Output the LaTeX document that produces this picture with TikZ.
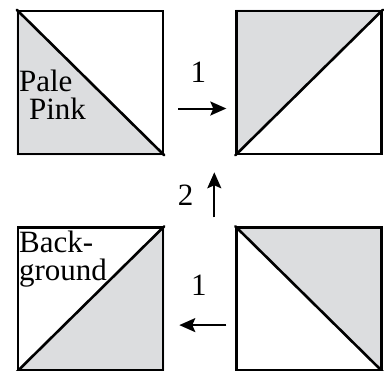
\documentclass[tikz,border=0pt]{standalone}
\usepackage{fontspec}
\setmainfont{Liberation Serif}
\usepackage{tikz}
\usetikzlibrary{positioning,arrows.meta,calc,backgrounds}
\definecolor{tilegray}{HTML}{DCDDDF}
\tikzset{
  tile/.style={rectangle, draw=black, line width=1.3pt, inner sep=0pt,
               minimum width=72.5pt, minimum height=71.5pt},
  half/.style={fill=tilegray},
  cut/.style={line width=1.3pt, line cap=round},
  lbl/.style={font=\fontsize{15.5}{14}\selectfont, inner sep=0pt},
  flow/.style={-{Stealth[length=8pt,width=7pt,inset=1.5pt]}, line width=1pt}
}
\begin{document}
\begin{tikzpicture}[x=0.5pt, y=-0.5pt, node distance=35.5pt]
\useasboundingbox (0,0) rectangle (385,370);
\node[tile] (tl) at (90.5,82.5) {};
\node[tile, right=of tl] (tr) {};
\node[tile, below=of tl] (bl) {};
\node[tile, below=of tr] (br) {};
\begin{scope}[on background layer]
  \path[half] (tl.north west) -- (tl.south west) -- (tl.south east) -- cycle;
  \path[half] (tr.north west) -- (tr.north east) -- (tr.south west) -- cycle;
  \path[half] (bl.north east) -- (bl.south east) -- (bl.south west) -- cycle;
  \path[half] (br.north west) -- (br.north east) -- (br.south east) -- cycle;
\end{scope}
\draw[cut] (tl.north west) -- (tl.south east);
\draw[cut] (tr.south west) -- (tr.north east);
\draw[cut] (bl.south west) -- (bl.north east);
\draw[cut] (br.north west) -- (br.south east);
\node[lbl, anchor=north west, align=left] (pink) at ($(tl.north west)+(2,60)$) {Pale\\\hspace*{5pt}Pink};
\node[lbl, anchor=north west, align=left] (bg) at ($(bl.north west)+(2,4)$) {Back-\\ground};
\draw[flow] ($(tl.east)+(14,26)$) -- node[lbl, above=12.5pt, xshift=-2pt] (n1) {1} ($(tr.west)+(-9,26)$);
\draw[flow] ($(br.north west)+(-21,-9)$) -- node[lbl, left=10pt] (n2) {2} ($(tr.south west)+(-21,17)$);
\draw[flow] ($(br.west)+(-9,26)$) -- node[lbl, above=14.5pt, xshift=-2pt] (n3) {1} ($(bl.east)+(15,26)$);
\end{tikzpicture}
\end{document}
